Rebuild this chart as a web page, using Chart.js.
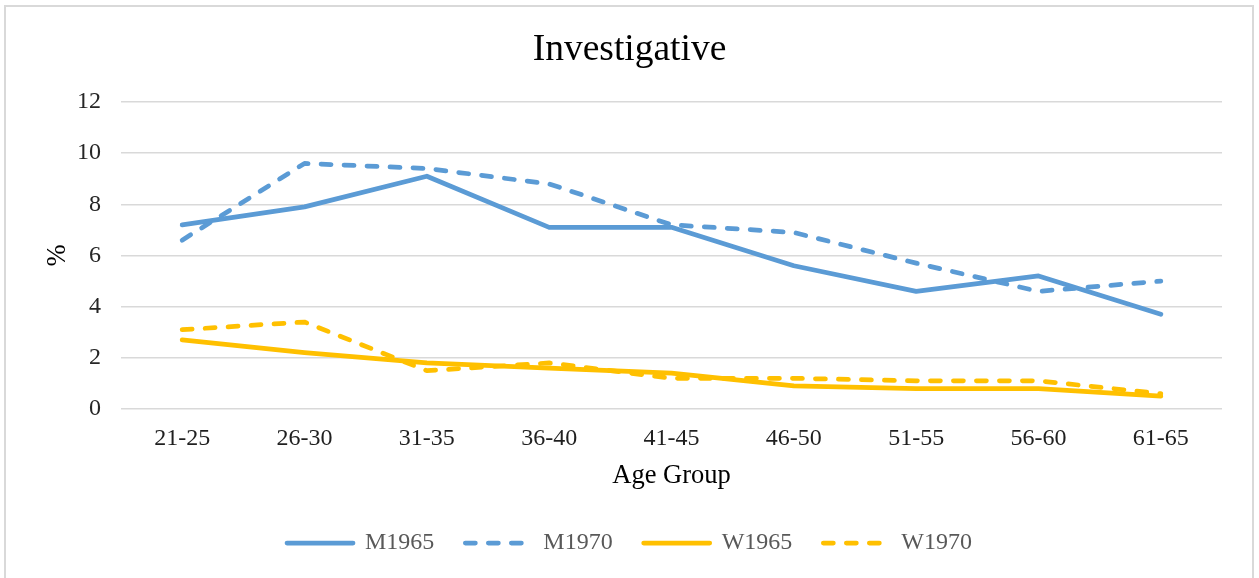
<!DOCTYPE html>
<html>
<head>
<meta charset="utf-8">
<title>Investigative</title>
<script src="https://cdn.jsdelivr.net/npm/chart.js@4/dist/chart.umd.min.js"></script>
<style>
    html, body { margin: 0; padding: 0; background: #fff; }
    #wrap { position: relative; width: 1259px; height: 578px; }
</style>
</head>
<body>
<div id="wrap"><canvas id="investigativeChart" width="1259" height="578"></canvas></div>
<script>
// Age groups on the x axis
const ageGroups = ['21-25', '26-30', '31-35', '36-40', '41-45', '46-50', '51-55', '56-60', '61-65'];

// Share (%) per age group
const m1965 = [7.2, 7.9, 9.1, 7.1, 7.1, 5.6, 4.6, 5.2, 3.7];
const m1970 = [6.6, 9.6, 9.4, 8.8, 7.2, 6.9, 5.7, 4.6, 5.0];
const w1965 = [2.7, 2.2, 1.8, 1.6, 1.4, 0.9, 0.8, 0.8, 0.5];
const w1970 = [3.1, 3.4, 1.5, 1.8, 1.2, 1.2, 1.1, 1.1, 0.6];

const BLUE = '#5B9BD5';
const GOLD = '#FFC000';
const SERIF = '"Liberation Serif", "Times New Roman", serif';
const DASH = [10, 13];

function lineSet(label, data, color, dashed) {
    return {
        label: label,
        data: data,
        borderColor: color,
        backgroundColor: color,
        borderWidth: 4.75,
        borderDash: dashed ? DASH : [],
        borderCapStyle: 'round',
        borderJoinStyle: 'round',
        pointRadius: 0,
        pointHoverRadius: 0,
        tension: 0,
        fill: false
    };
}

// white page with the thin grey frame round the chart
const frame = {
    id: 'frame',
    beforeDraw(chart) {
        const ctx = chart.ctx;
        ctx.save();
        ctx.fillStyle = '#ffffff';
        ctx.fillRect(0, 0, chart.width, chart.height);
        ctx.strokeStyle = '#D9D9D9';
        ctx.lineWidth = 2;
        ctx.strokeRect(5, 6, 1248, 600);
        ctx.restore();
    }
};

// legend samples take the dash and cap of their dataset line
function legendLabels(chart) {
    const items = Chart.defaults.plugins.legend.labels.generateLabels(chart);
    items.forEach(item => {
        const ds = chart.data.datasets[item.datasetIndex];
        item.lineDash = ds.borderDash;
        item.lineCap = 'round';
        item.lineWidth = ds.borderWidth;
        item.strokeStyle = ds.borderColor;
    });
    return items;
}

new Chart(document.getElementById('investigativeChart'), {
    type: 'line',
    data: {
        labels: ageGroups,
        datasets: [
            lineSet('M1965', m1965, BLUE, false),
            lineSet('M1970', m1970, BLUE, true),
            lineSet('W1965', w1965, GOLD, false),
            lineSet('W1970', w1970, GOLD, true)
        ]
    },
    options: {
        responsive: false,
        animation: false,
        layout: {
            padding: { top: 20, left: 0, right: 0, bottom: 13 }
        },
        plugins: {
            title: {
                display: true,
                text: 'Investigative',
                color: '#000000',
                font: { family: SERIF, size: 37.5, weight: 'normal' },
                padding: { top: 8, bottom: 29 }
            },
            legend: {
                position: 'bottom',
                labels: {
                    usePointStyle: true,
                    pointStyle: 'line',
                    pointStyleWidth: 66,
                    padding: 31,
                    color: '#595959',
                    font: { family: SERIF, size: 24 },
                    generateLabels: legendLabels
                }
            },
            tooltip: { enabled: false }
        },
        scales: {
            x: {
                offset: true,
                grid: { display: false, drawTicks: false },
                border: { display: false },
                ticks: {
                    color: '#1f1f1f',
                    padding: 15,
                    maxRotation: 0,
                    font: { family: SERIF, size: 24 }
                },
                title: {
                    display: true,
                    text: 'Age Group',
                    color: '#000000',
                    font: { family: SERIF, size: 26.5 },
                    padding: { top: 0, bottom: 8 }
                },
                afterFit(scale) { scale.height = 91; }
            },
            y: {
                min: 0,
                max: 12,
                ticks: {
                    stepSize: 2,
                    color: '#262626',
                    padding: 20,
                    font: { family: SERIF, size: 24 }
                },
                grid: { color: '#D9D9D9', lineWidth: 1.5, drawTicks: false },
                border: { display: false },
                title: {
                    display: true,
                    text: '%',
                    color: '#000000',
                    font: { family: SERIF, size: 26.5 },
                    padding: { top: 42, bottom: 0 }
                },
                afterFit(scale) { scale.width = 121; }
            },
            // empty right-hand axis that only reserves space
            yRight: {
                position: 'right',
                display: true,
                grid: { display: false },
                border: { display: false },
                ticks: { display: false },
                afterFit(scale) { scale.width = 37; }
            }
        }
    },
    plugins: [frame]
});
</script>
</body>
</html>
